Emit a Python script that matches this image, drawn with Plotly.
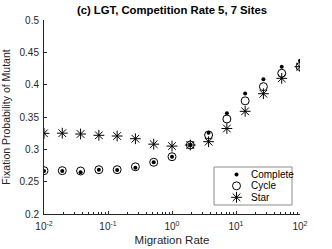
import numpy as np
import plotly.graph_objects as go

migration_rate = [0.01, 0.0193, 0.0373, 0.072, 0.139, 0.268, 0.518, 1.0,
                  1.93, 3.73, 7.2, 13.9, 26.8, 51.8, 100.0]
complete = [0.2665, 0.2665, 0.2645, 0.2685, 0.268, 0.2716, 0.280, 0.2886,
            0.3067, 0.3257, 0.3557, 0.3863, 0.4083, 0.4278, 0.437]
cycle = [0.267, 0.267, 0.2665, 0.2685, 0.2685, 0.273, 0.280, 0.2886,
         0.3067, 0.3222, 0.3469, 0.375, 0.3969, 0.4176, 0.428]
star = [0.3248, 0.325, 0.3237, 0.3217, 0.3206, 0.3164, 0.308, 0.305,
        0.3067, 0.3118, 0.3322, 0.3588, 0.386, 0.4098, 0.4278]

series_names = ["Complete", "Cycle", "Star"]

x_tickvals = [0.01, 0.1, 1, 10, 100]
x_ticktext = ["10<sup>-2</sup>", "10<sup>-1</sup>", "10<sup>0</sup>", "10<sup>1</sup>", "10<sup>2</sup>"]
y_tickvals = [0.2, 0.25, 0.3, 0.35, 0.4, 0.45, 0.5]
y_ticktext = ["0.2", "0.25", "0.3", "0.35", "0.4", "0.45", "0.5"]

W, H = 332, 249
L, R, T, B = 44, 300, 20, 214  # plot area in pixels

axc = "#262626"
styles = {
    "Complete": dict(symbol="circle", size=4, color="black"),
    "Cycle": dict(symbol="circle-open", size=8, color="black", line=dict(width=1, color="black")),
    "Star": dict(symbol="asterisk-open", size=9, color="black", line=dict(width=1, color="#3a3a3a")),
}

fig = go.Figure()
fig.add_trace(go.Scatter(x=migration_rate, y=cycle, mode="markers", name="Cycle",
                         marker=styles["Cycle"], showlegend=False))
fig.add_trace(go.Scatter(x=migration_rate, y=star, mode="markers", name="Star",
                         marker=styles["Star"], showlegend=False))
fig.add_trace(go.Scatter(x=migration_rate, y=complete, mode="markers", name="Complete",
                         marker=styles["Complete"], showlegend=False))

# custom legend (pixel-unit overlay axes)
box = dict(x0=214, x1=292, y0=167, y1=205)
row_y = [174.5, 185.8, 197.3]
sym_x = 236.5
txt_x = 249
fig.add_shape(type="rect", xref="x2", yref="y2", x0=box["x0"], x1=box["x1"],
              y0=box["y0"], y1=box["y1"], line=dict(color="#8c8c8c", width=1),
              fillcolor="white", layer="below")
for name, ry in zip(series_names, row_y):
    fig.add_trace(go.Scatter(x=[sym_x], y=[ry], xaxis="x2", yaxis="y2", mode="markers",
                             marker=styles[name], showlegend=False, hoverinfo="skip"))
    fig.add_annotation(x=txt_x, y=ry, xref="x2", yref="y2", text=name, showarrow=False,
                       xanchor="left", yanchor="middle",
                       font=dict(size=10, color="black"))

fig.update_layout(
    width=W, height=H,
    margin=dict(l=L, r=W - R, t=T, b=H - B, autoexpand=False),
    paper_bgcolor="white", plot_bgcolor="white",
    font=dict(family="Liberation Sans, Arial, sans-serif", size=10, color=axc),
    title=dict(text="<b>(c) LGT, Competition Rate 5, 7 Sites</b>", x=0.5, xanchor="center",
               xref="paper", y=1 - 10.5 / H, yanchor="middle", yref="container",
               font=dict(size=11.3, color="black")),
    showlegend=False,
    hovermode=False,
    xaxis=dict(type="log", range=[-2, 2], tickvals=x_tickvals,
               ticktext=x_ticktext, automargin=False, ticklabelstandoff=3,
               ticks="inside", ticklen=3, tickcolor=axc, showline=True, linecolor=axc,
               linewidth=1, showgrid=False, zeroline=False, mirror=False,
               minor=dict(ticks="inside", ticklen=2, tickcolor=axc, dtick="D1", showgrid=False),
               title=dict(text="Migration Rate", standoff=4, font=dict(size=11.5)),
               tickfont=dict(size=10)),
    yaxis=dict(range=[0.2, 0.5], tickvals=y_tickvals, ticktext=y_ticktext,
               automargin=False, ticklabelstandoff=2,
               ticks="inside", ticklen=3, tickcolor=axc, showline=True, linecolor=axc,
               linewidth=1, showgrid=False, zeroline=False, mirror=False,
               title=dict(text="Fixation Probability of Mutant", standoff=6,
                          font=dict(size=10.5)),
               tickfont=dict(size=10)),
    xaxis2=dict(overlaying="x", range=[L, R], visible=False, fixedrange=True),
    yaxis2=dict(overlaying="y", range=[B, T], visible=False, fixedrange=True),
)

fig.write_html("out.html", config={"displayModeBar": False},
               post_script="document.body.style.margin='0px';")
